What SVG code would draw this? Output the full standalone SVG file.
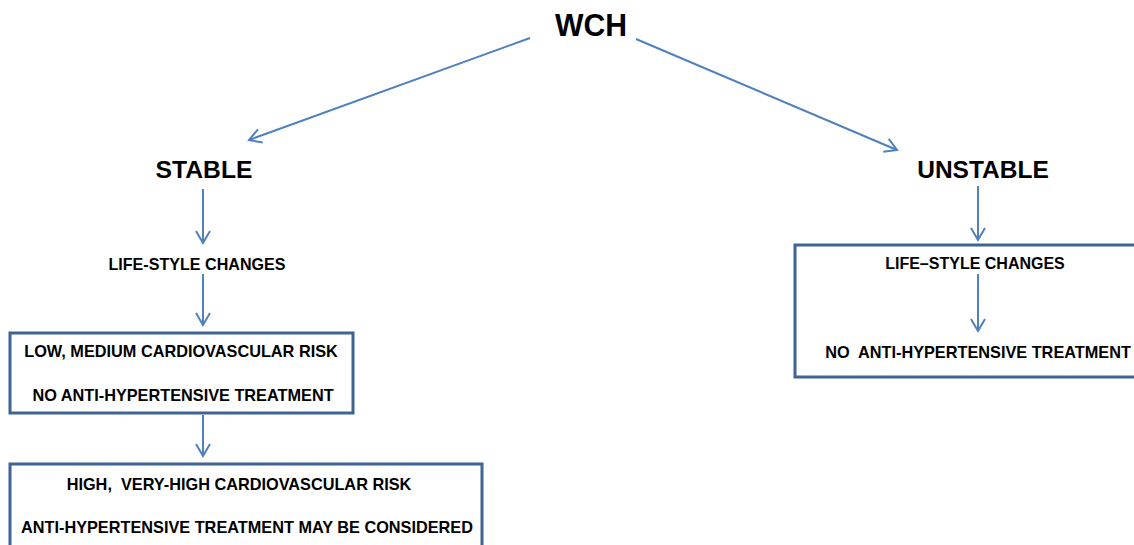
<svg xmlns="http://www.w3.org/2000/svg" width="1134" height="545" viewBox="0 0 1134 545">
<style>
text{font-family:"Liberation Sans",Arial,sans-serif;font-weight:bold;fill:#000}
.t{font-size:16.3px}
.box{fill:#fff;stroke:#3F6393;stroke-width:3}
.c{stroke:#4F81BD;stroke-width:2;fill:none}
</style>
<defs>
<marker id="ah" viewBox="0 0 16 16" refX="14" refY="8" markerWidth="16" markerHeight="16" markerUnits="userSpaceOnUse" orient="auto">
<path d="M2,1 L14,8 L2,15" fill="none" stroke="#4F81BD" stroke-width="2"/>
</marker>
</defs>
<rect width="1134" height="545" fill="#fff"/>
<g id="wch"><text x="591" y="36" font-size="31" text-anchor="middle" textLength="72" lengthAdjust="spacingAndGlyphs">WCH</text></g>
<g id="stable"><text x="204" y="178" font-size="24.7" text-anchor="middle">STABLE</text></g>
<g id="unstable"><text x="983" y="178" font-size="24.5" text-anchor="middle">UNSTABLE</text></g>
<g id="lifestyle-left"><text x="197" y="270" text-anchor="middle" font-size="16.1">LIFE-STYLE CHANGES</text></g>
<g id="low-risk">
<rect class="box" x="10" y="333" width="343" height="80"/>
<text class="t" x="181" y="357" text-anchor="middle">LOW, MEDIUM CARDIOVASCULAR RISK</text>
<text class="t" x="183" y="401" text-anchor="middle">NO ANTI-HYPERTENSIVE TREATMENT</text>
</g>
<g id="high-risk">
<rect class="box" x="10" y="464" width="472" height="90"/>
<text class="t" x="239" y="490" text-anchor="middle" xml:space="preserve">HIGH,  VERY-HIGH CARDIOVASCULAR RISK</text>
<text class="t" x="247" y="533" text-anchor="middle">ANTI-HYPERTENSIVE TREATMENT MAY BE CONSIDERED</text>
</g>
<g id="unstable-box">
<rect class="box" x="795" y="245" width="360" height="132"/>
<text x="975" y="269" text-anchor="middle" font-size="16">LIFE–STYLE CHANGES</text>
<text class="t" x="978" y="358" text-anchor="middle" xml:space="preserve">NO  ANTI-HYPERTENSIVE TREATMENT</text>
</g>
<g id="connectors">
<line class="c" x1="530" y1="38" x2="249" y2="140" marker-end="url(#ah)"/>
<line class="c" x1="636" y1="39" x2="897" y2="150" marker-end="url(#ah)"/>
<line class="c" x1="203" y1="189" x2="203" y2="243" marker-end="url(#ah)"/>
<line class="c" x1="203" y1="274" x2="203" y2="325" marker-end="url(#ah)"/>
<line class="c" x1="203" y1="415" x2="203" y2="456" marker-end="url(#ah)"/>
<line class="c" x1="978" y1="186" x2="978" y2="240" marker-end="url(#ah)"/>
<line class="c" x1="978" y1="274" x2="978" y2="331" marker-end="url(#ah)"/>
</g>
</svg>
